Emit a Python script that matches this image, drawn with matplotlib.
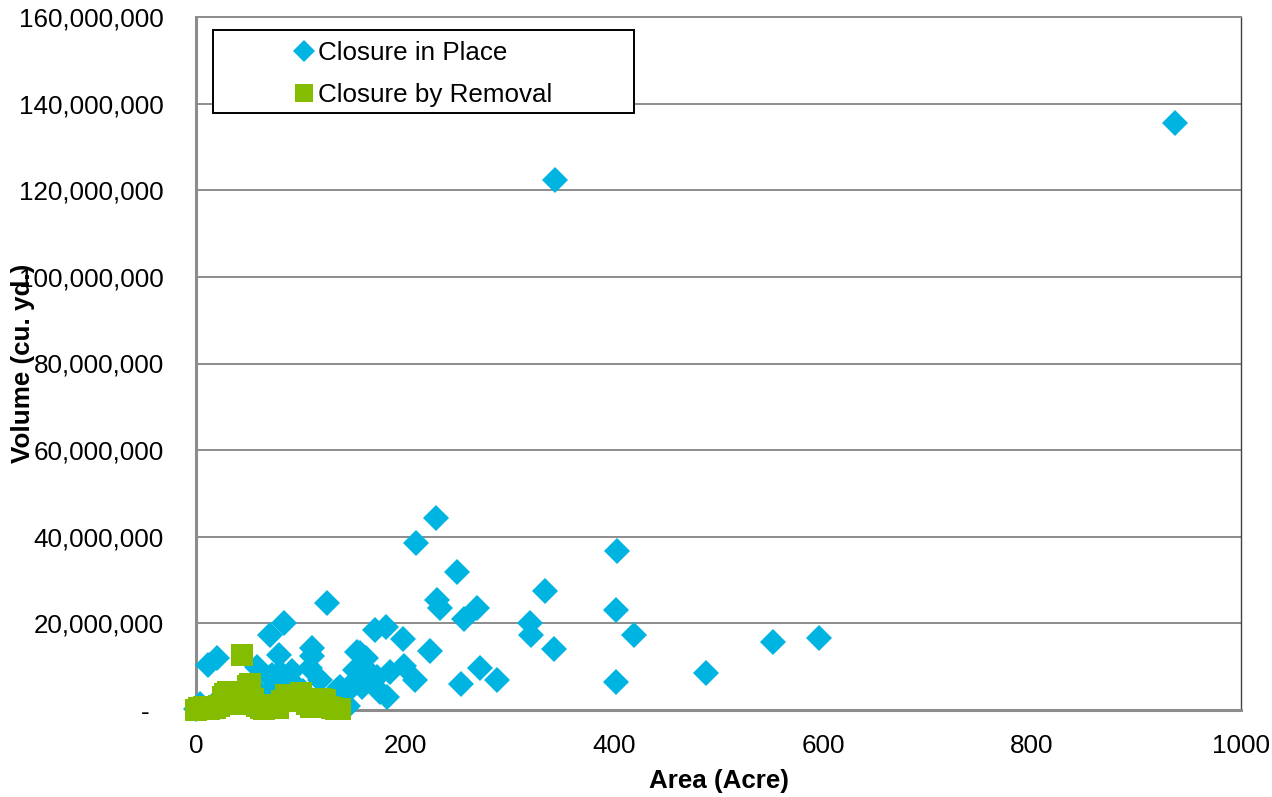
import matplotlib
matplotlib.use("Agg")
import matplotlib.pyplot as plt
from matplotlib.lines import Line2D
from matplotlib.patches import Rectangle
from matplotlib.ticker import FuncFormatter

plt.rcParams['font.family'] = ['Liberation Sans', 'DejaVu Sans']

# Closure in Place: area (acre), volume (cu. yd.)
place_area = [937, 343.5, 229.7, 210.3, 403, 249.6, 333.5, 125.2, 230.6, 233.5,
              268.6, 401.8, 256.5, 319.6, 320.6, 419.3, 84.5, 70.7, 171.5, 181.6,
              198.3, 552, 596, 224.4, 342.5, 111.3, 110.7, 11.5, 20.5, 79,
              157, 162.5, 271.8, 199.5, 186, 209.6, 288.3, 253.6, 401.6, 488,
              58, 72.5, 92, 109.5, 118.7, 152.5, 150.6, 165, 173, 158.6,
              137.8, 176, 182.5, 133, 90, 96, 61, 80, 0, 4,
              16, 125, 145, 102, 153.7, 69, 144, 134.6, 70.8, 80.4]
place_volume = [135.6, 122.3, 44.4, 38.5, 36.7, 31.9, 27.5, 24.7, 25.3, 23.5,
                23.6, 23.2, 21.1, 20.0, 17.4, 17.3, 20.2, 17.3, 18.5, 19.2,
                16.5, 15.7, 16.6, 13.6, 14.1, 14.2, 12.5, 10.4, 12.0, 12.6,
                13.2, 11.9, 9.7, 10.2, 8.8, 7.0, 6.9, 5.9, 6.4, 8.6,
                10.0, 8.0, 9.0, 9.6, 6.9, 9.2, 6.2, 8.9, 7.7, 5.2,
                5.2, 4.2, 3.0, 3.4, 6.9, 5.4, 3.9, 8.8, 0.2, 1.5,
                1.2, 2.0, 1.0, 4.3, 13.5, 3.9, 3.9, 4.6, 7.7, 5.4]
place_volume = [v * 1e6 for v in place_volume]

# Closure by Removal
removal_area = [0, 3, 6, 8, 12, 15, 18, 22, 26, 28, 31, 33, 36, 40, 44, 47, 50, 52,
                55, 58, 62, 65, 70, 74, 78, 82, 86, 89, 93, 96, 100, 103, 106, 110,
                114, 117, 120, 123, 126, 130, 134, 138]
removal_volume = [0, 0.5, 0.3, 0.8, 0.2, 0.6, 0.4, 1.0, 3.0, 3.6, 4.2, 4.2, 2.0, 1.5,
                  12.6, 3.0, 5.6, 6.0, 2.5, 1.0, 0.5, 0.3, 0.8, 1.2, 0.5, 2.0, 3.5,
                  3.2, 3.5, 2.8, 3.9, 2.0, 1.5, 0.6, 2.5, 2.4, 2.5, 2.3, 0.8, 0.4,
                  0.3, 0.2]
removal_volume = [v * 1e6 for v in removal_volume]

series_labels = ["Closure in Place", "Closure by Removal"]
x_ticks = [0, 200, 400, 600, 800, 1000]
y_ticks = [0, 20e6, 40e6, 60e6, 80e6, 100e6, 120e6, 140e6, 160e6]

BLUE = '#00B4E2'
GREEN = '#84BD00'
GRID = '#8C8C8C'
FS = 18.7

fig = plt.figure(figsize=(12.72, 7.97), dpi=100)
ax = fig.add_axes([196/1272, 1 - 710/797, (1241-196)/1272, (710-17)/797])

ax.plot(place_area, place_volume, linestyle='none', marker='D', markersize=13.5,
        markeredgewidth=0, color=BLUE, clip_on=False, zorder=3)
ax.plot(removal_area, removal_volume, linestyle='none', marker='s', markersize=16,
        markeredgewidth=0, color=GREEN, clip_on=False, zorder=4)

ax.set_xlim(0, 1000)
ax.set_ylim(0, 160e6)
ax.set_xticks(x_ticks)
ax.set_yticks(y_ticks)

def yfmt(v, pos):
    if abs(v) < 1:
        return '-  '
    return f'{int(round(v)):,}'

ax.yaxis.set_major_formatter(FuncFormatter(yfmt))
ax.tick_params(axis='y', length=0, pad=23, labelsize=FS, labelcolor='black')
ax.tick_params(axis='x', length=0, pad=17, labelsize=FS, labelcolor='black')

ax.grid(axis='y', color=GRID, linewidth=1.4, zorder=1)
ax.grid(axis='x', visible=False)
ax.set_axisbelow(True)

for side in ['left', 'bottom']:
    ax.spines[side].set_color(GRID)
    ax.spines[side].set_linewidth(2.2)
ax.spines['top'].set_color(GRID)
ax.spines['top'].set_linewidth(1.4)
ax.spines['right'].set_color('#404040')
ax.spines['right'].set_linewidth(1.0)

ax.set_xlabel('Area (Acre)', fontsize=FS, fontweight='bold')
ax.xaxis.label.set_va('center')
ax.xaxis.set_label_coords(0.5, (710 - 781) / 693)
ax.set_ylabel('Volume (cu. yd.)', fontsize=FS, fontweight='bold')
ax.yaxis.label.set_va('center')
ax.yaxis.set_label_coords((23 - 196) / 1045, 0.5)

# legend box
x0 = (213 - 196) / 1045
x1 = (634 - 196) / 1045
y0 = (710 - 113) / 693
y1 = (710 - 30) / 693
rect = Rectangle((x0, y0), x1 - x0, y1 - y0, transform=ax.transAxes,
                 facecolor='white', edgecolor='black', linewidth=1.4,
                 zorder=10, clip_on=False)
ax.add_patch(rect)

handles = [
    Line2D([], [], linestyle='none', marker='D', markersize=11.5,
           markeredgewidth=0, color=BLUE),
    Line2D([], [], linestyle='none', marker='s', markersize=13.5,
           markeredgewidth=0, color=GREEN),
]
leg = ax.legend(handles, series_labels, loc='center',
                bbox_to_anchor=((x0 + x1) / 2, (710 - 74) / 693),
                frameon=False, fontsize=FS, handlelength=0.7,
                handletextpad=0.2, labelspacing=0.7, borderpad=0)
leg.set_zorder(11)

fig.savefig('out.png', dpi=100)
